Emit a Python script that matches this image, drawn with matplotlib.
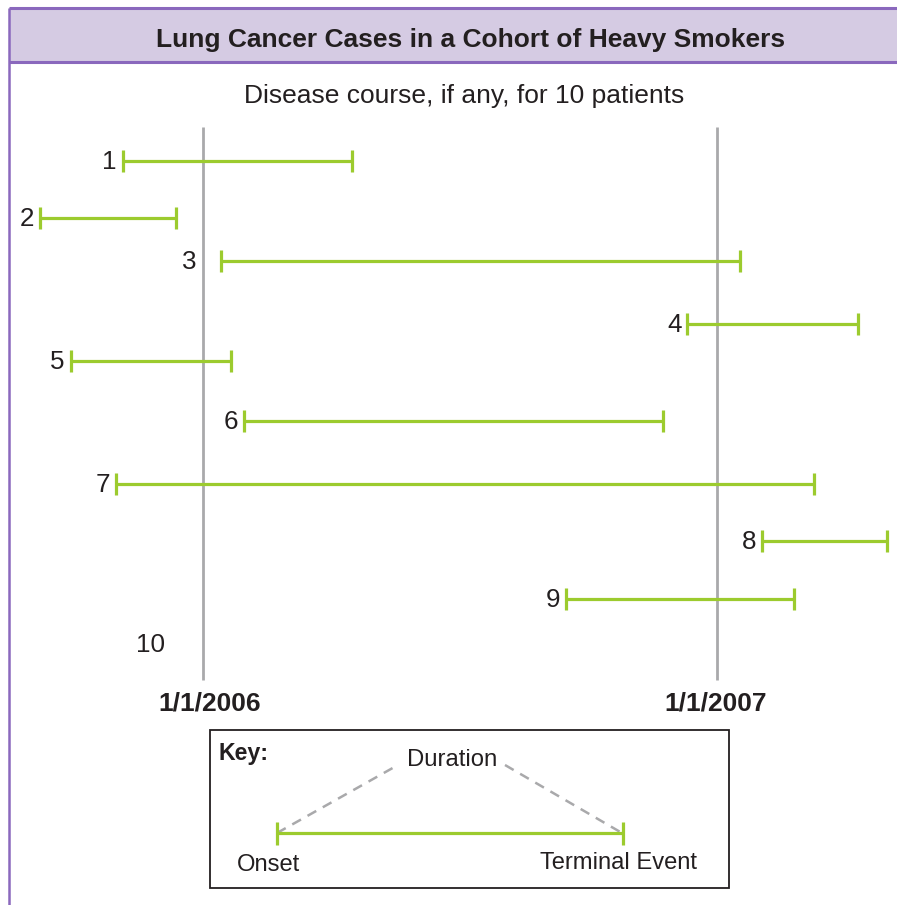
import matplotlib
matplotlib.use("Agg")
import matplotlib.pyplot as plt
import matplotlib.dates as mdates
from datetime import date

plt.rcParams['font.family'] = ['Liberation Sans', 'DejaVu Sans']

# ---- data ----
patients = ["1", "2", "3", "4", "5", "6", "7", "8", "9", "10"]
onset = ["2005-11-05", "2005-09-07", "2006-01-14", "2006-12-11", "2005-09-29",
         "2006-01-30", "2005-10-31", "2007-02-02", "2006-09-16", None]
terminal = ["2006-04-17", "2005-12-13", "2007-01-17", "2007-04-11", "2006-01-21",
            "2006-11-24", "2007-03-11", "2007-05-02", "2007-02-25", None]
ref_dates = ["2006-01-01", "2007-01-01"]
ref_labels = ["1/1/2006", "1/1/2007"]
title = "Lung Cancer Cases in a Cohort of Heavy Smokers"
subtitle = "Disease course, if any, for 10 patients"

# ---- layout (pixels) ----
W, H = 897, 905
row_y = [161, 218, 261, 324, 361, 421, 484, 541, 599, 645]
ref_label_dx = [7, -1]
GREEN = "#9ccb2e"
GRAY = "#a9a9ab"
PURPLE = "#8a68bd"
LAV = "#d5cbe3"
TXT = "#231f20"

def dn(s):
    return mdates.date2num(date.fromisoformat(s))

px_per_day = 514 / 365.0
x0 = dn("2006-01-01") - 203 / px_per_day
x1 = x0 + W / px_per_day

fig = plt.figure(figsize=(W / 100, H / 100), dpi=100)
pa = fig.add_axes([0, 0, 1, 1])
pa.set_xlim(0, W); pa.set_ylim(H, 0); pa.axis("off")
ax = fig.add_axes([0, 0, 1, 1], sharey=pa)
ax.set_xlim(x0, x1)
ax.axis("off")
ax.patch.set_alpha(0)

# frame and title bar
pa.add_patch(plt.Rectangle((8.5, 8.5), W, 53.5, facecolor=LAV, edgecolor="none"))
pa.plot([8.5, W], [8.5, 8.5], color=PURPLE, lw=2.2, solid_capstyle="butt")
pa.plot([8.5, W], [62, 62], color=PURPLE, lw=2.2, solid_capstyle="butt")
pa.plot([8.5, 8.5], [8, H], color=PURPLE, lw=1.8, solid_capstyle="butt")
pa.text(471, 40, title, ha="center", va="center", fontsize=19, fontweight="bold", color=TXT)
pa.text(464, 96, subtitle, ha="center", va="center", fontsize=19, color=TXT)

# reference vertical lines
for d, lab, dx in zip(ref_dates, ref_labels, ref_label_dx):
    xd = dn(d)
    ax.plot([xd, xd], [127, 680], color=GRAY, lw=2.0, solid_capstyle="butt", zorder=1)
    ax.text(xd + dx / px_per_day, 703, lab, ha="center", va="center", fontsize=19,
            fontweight="bold", color=TXT)

# patient segments
cap = 11
for p, s, e, y in zip(patients, onset, terminal, row_y):
    if s is None:
        ax.text(dn("2006-01-01") - 52 / px_per_day, y, p, ha="center", va="center",
                fontsize=18.7, color=TXT)
        continue
    xs, xe = dn(s), dn(e)
    ax.plot([xs, xe], [y, y], color=GREEN, lw=2.3, solid_capstyle="butt", zorder=3)
    for xx in (xs, xe):
        ax.plot([xx, xx], [y - cap, y + cap], color=GREEN, lw=2.3, solid_capstyle="butt", zorder=3)
    if p == "3":
        lx = dn("2006-01-01") - 7 / px_per_day
    else:
        lx = xs - 6 / px_per_day
    ax.text(lx, y + 1, p, ha="right", va="center", fontsize=18.7, color=TXT)

# key box
pa.add_patch(plt.Rectangle((210, 730), 519, 158, facecolor="white", edgecolor=TXT, lw=1.3))
pa.text(218, 753, "Key:", ha="left", va="center", fontsize=16.7, fontweight="bold", color=TXT)
pa.text(452, 760, "Duration", ha="center", va="center", fontsize=17.2, color=TXT)
pa.plot([277, 398], [833, 765], color=GRAY, lw=1.8, ls=(0, (4, 3)))
pa.plot([505, 622], [765, 833], color=GRAY, lw=1.8, ls=(0, (4, 3)))
pa.plot([277, 623], [833, 833], color=GREEN, lw=2.3, solid_capstyle="butt")
for xx in (277, 623):
    pa.plot([xx, xx], [822, 845], color=GREEN, lw=2.3, solid_capstyle="butt")
pa.text(269, 865, "Onset", ha="center", va="center", fontsize=17.1, color=TXT)
pa.text(618, 863, "Terminal Event", ha="center", va="center", fontsize=17.1, color=TXT)

fig.savefig("out.png", dpi=100)
